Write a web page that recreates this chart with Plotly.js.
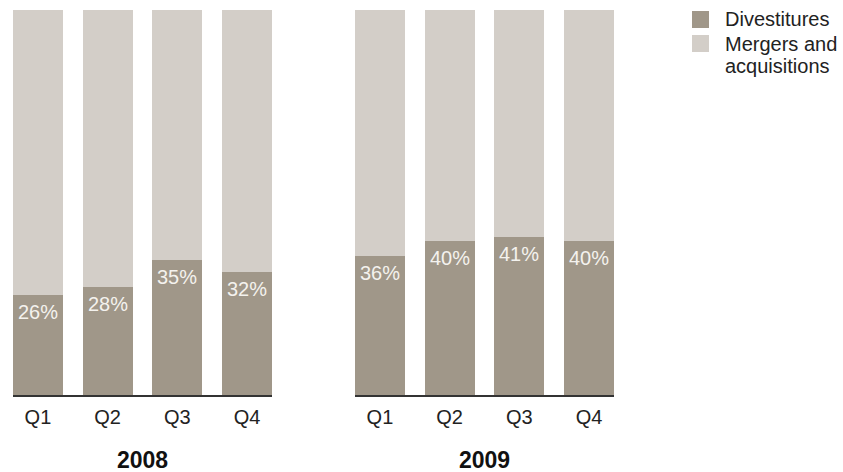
<!DOCTYPE html>
<html>
<head>
<meta charset="utf-8">
<script src="https://cdn.plot.ly/plotly-3.0.1.min.js"></script>
<style>html,body{margin:0;padding:0;background:#fff;}#chart{width:843px;height:472px;}</style>
</head>
<body>
<div id="chart"></div>
<script>
var quarters = ["Q1", "Q2", "Q3", "Q4"];
var years = ["2008", "2009"];
var divest2008 = [26, 28, 35, 32];
var divest2009 = [36, 40, 41, 40];
var seriesNames = ["Divestitures", "Mergers and<br>acquisitions"];

var darkColor = "#a09789";
var lightColor = "#d3cec8";
var font = "Liberation Sans, Arial, Helvetica, sans-serif";

function rest(arr) { return arr.map(function (v) { return 100 - v; }); }

var traces = [
  {type: "bar", x: quarters, y: divest2008, xaxis: "x", yaxis: "y", name: seriesNames[0],
   marker: {color: darkColor}, hoverinfo: "none"},
  {type: "bar", x: quarters, y: rest(divest2008), xaxis: "x", yaxis: "y", name: seriesNames[1],
   marker: {color: lightColor}, hoverinfo: "none"},
  {type: "bar", x: quarters, y: divest2009, xaxis: "x2", yaxis: "y2", name: seriesNames[0],
   marker: {color: darkColor}, hoverinfo: "none"},
  {type: "bar", x: quarters, y: rest(divest2009), xaxis: "x2", yaxis: "y2", name: seriesNames[1],
   marker: {color: lightColor}, hoverinfo: "none"}
];

var W = 843, H = 472, T = 10, B = 77;
var PH = H - T - B;
function px(x) { return x / W; }
function py(y) { return (H - B - y) / PH; }

var annotations = [];
function addLabels(arr, xref, yref) {
  arr.forEach(function (v, i) {
    annotations.push({x: quarters[i], y: v, xref: xref, yref: yref, text: v + "%",
      showarrow: false, yanchor: "middle", yshift: -17,
      font: {family: font, size: 20, color: "#f4f2ee"}});
  });
}
addLabels(divest2008, "x", "y");
addLabels(divest2009, "x2", "y2");

annotations.push({x: 0.5, y: -0.17, xref: "x domain", yref: "y domain", text: "<b>" + years[0] + "</b>",
  showarrow: false, yanchor: "middle", font: {family: font, size: 23, color: "#111"}});
annotations.push({x: 0.5, y: -0.17, xref: "x2 domain", yref: "y2 domain", text: "<b>" + years[1] + "</b>",
  showarrow: false, yanchor: "middle", font: {family: font, size: 23, color: "#111"}});

// legend (custom, to match the square swatches)
var legendLines = [[seriesNames[0]], seriesNames[1].split("<br>")];
var legendTop = [19, 44];
legendLines.forEach(function (lines, k) {
  lines.forEach(function (ln, j) {
    annotations.push({x: px(723), y: py(legendTop[k] + j * 22), xref: "paper", yref: "paper", text: ln,
      showarrow: false, xanchor: "left", yanchor: "middle", align: "left",
      font: {family: font, size: 20, color: "#222"}});
  });
});

var shapes = [
  {type: "rect", xref: "paper", yref: "paper", x0: px(692), x1: px(709), y0: py(28), y1: py(11),
   fillcolor: darkColor, line: {width: 0}},
  {type: "rect", xref: "paper", yref: "paper", x0: px(692), x1: px(709), y0: py(52), y1: py(35),
   fillcolor: lightColor, line: {width: 0}}
];

var xcommon = {
  type: "category", range: [-0.358, 3.358], showgrid: false, zeroline: false,
  showline: true, linecolor: "#333", linewidth: 1.5, ticks: "", ticklabelstandoff: 3,
  tickfont: {family: font, size: 20, color: "#222"}, fixedrange: true
};
var ycommon = {range: [0, 100], visible: false, fixedrange: true};

var layout = {
  width: W, height: H,
  margin: {l: 0, r: 0, t: T, b: B},
  paper_bgcolor: "#fff", plot_bgcolor: "#fff",
  barmode: "stack", bargap: 0.283,
  showlegend: false,
  xaxis: Object.assign({}, xcommon, {domain: [px(13), px(272)], anchor: "y"}),
  xaxis2: Object.assign({}, xcommon, {domain: [px(355), px(614)], anchor: "y2"}),
  yaxis: Object.assign({}, ycommon, {anchor: "x"}),
  yaxis2: Object.assign({}, ycommon, {anchor: "x2"}),
  annotations: annotations,
  shapes: shapes
};

Plotly.newPlot("chart", traces, layout, {displayModeBar: false, staticPlot: true});
</script>
</body>
</html>
